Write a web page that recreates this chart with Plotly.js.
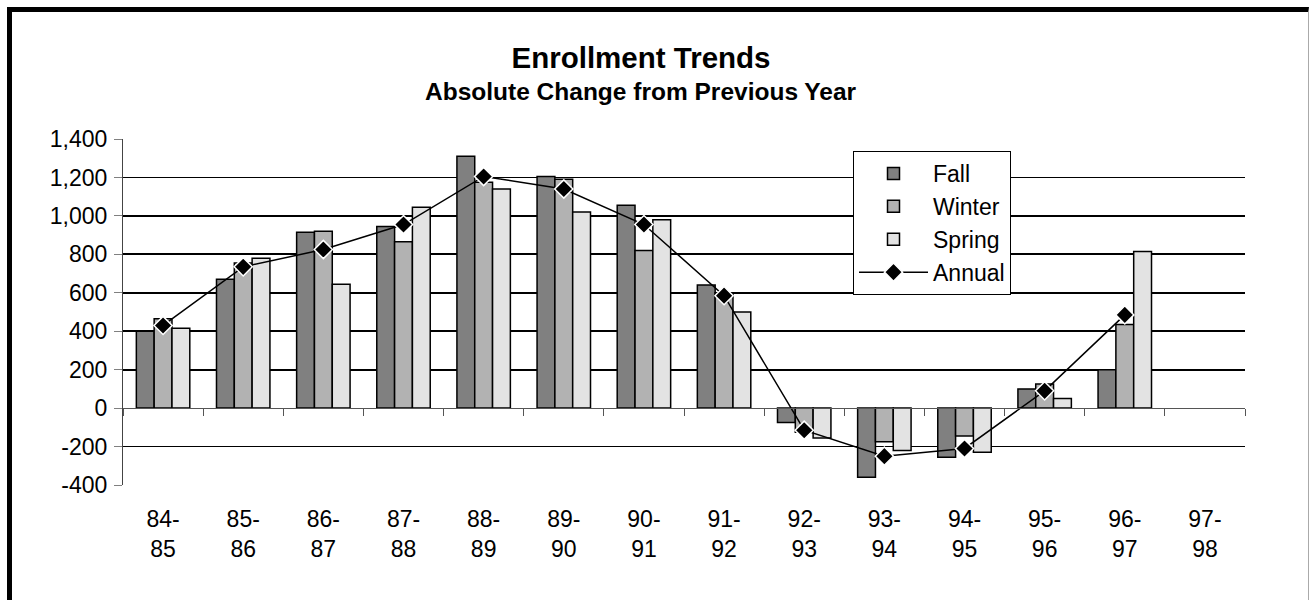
<!DOCTYPE html>
<html>
<head>
<meta charset="utf-8">
<script src="https://cdn.plot.ly/plotly-3.0.1.min.js"></script>
<style>
  html, body { margin: 0; padding: 0; background: #fff; }
  #wrap { position: relative; width: 1309px; height: 600px; overflow: hidden; }
  #chart { position: absolute; left: 0; top: 0; width: 1309px; height: 600px; }
  #frame { position: absolute; left: 7px; top: 7px; width: 1302px; height: 700px;
           box-sizing: border-box; border-left: 5px solid #000; border-top: 5px solid #000;
           border-right: 1px solid #aaa; pointer-events: none; }
</style>
</head>
<body>
<div id="wrap">
  <div id="chart"></div>
  <div id="frame"></div>
</div>
<script>
// ---- data ----
const categories = ["84-85","85-86","86-87","87-88","88-89","89-90","90-91","91-92","92-93","93-94","94-95","95-96","96-97","97-98"];
const tickLabels = ["84-<br>85","85-<br>86","86-<br>87","87-<br>88","88-<br>89","89-<br>90","90-<br>91","91-<br>92","92-<br>93","93-<br>94","94-<br>95","95-<br>96","96-<br>97","97-<br>98"];
const fall   = [400, 670, 915, 945, 1310, 1205, 1055, 640, -75, -360, -255, 100, 200, null];
const winter = [465, 755, 920, 865, 1175, 1190, 820, 600, -125, -175, -145, 125, 435, null];
const spring = [415, 780, 645, 1045, 1140, 1020, 980, 500, -155, -220, -230, 50, 815, null];
const annual = [430, 735, 825, 955, 1205, 1140, 955, 585, -115, -250, -210, 90, 485, null];
const yTickVals = [-400, -200, 0, 200, 400, 600, 800, 1000, 1200, 1400];
const yTickText = ["-400", "-200", "0", "200", "400", "600", "800", "1,000", "1,200", "1,400"];
const titleText = "Enrollment Trends";
const subtitleText = "Absolute Change from Previous Year";

const FONT = "Liberation Sans, Arial, sans-serif";
const barLine = { color: "#000", width: 1.5 };

const traces = [
  { type: "bar", name: "Fall", x: categories, y: fall, legendgroup: "a",
    marker: { color: "#808080", line: barLine } },
  { type: "bar", name: "Winter", x: categories, y: winter, legendgroup: "b",
    marker: { color: "#b2b2b2", line: barLine } },
  { type: "bar", name: "Spring", x: categories, y: spring, legendgroup: "c",
    marker: { color: "#e3e3e3", line: barLine } },
  { type: "scatter", mode: "lines+markers", name: "Annual", x: categories, y: annual, legendgroup: "d",
    line: { color: "#000", width: 1.5 },
    marker: { symbol: "diamond", size: 14, color: "#000", line: { color: "#fff", width: 1.5 } } }
];

const zeroPos = 400 / 1800;

const layout = {
  width: 1309, height: 600,
  margin: { l: 123, r: 64, t: 139, b: 115 },
  paper_bgcolor: "#fff", plot_bgcolor: "#fff",
  font: { family: FONT, size: 23, color: "#000" },
  title: {
    text: "<b>" + titleText + "</b>",
    font: { family: FONT, size: 29.5, color: "#000" },
    x: 641 / 1309, xanchor: "center", xref: "container",
    y: 1 - 58 / 600, yanchor: "middle", yref: "container"
  },
  annotations: [{
    text: "<b>" + subtitleText + "</b>",
    xref: "paper", yref: "paper",
    x: (641 - 123) / 1122, y: (485 - 91) / 346,
    xanchor: "center", yanchor: "middle", showarrow: false,
    font: { family: FONT, size: 24.5, color: "#000" }
  }],
  barmode: "group", bargap: 0.333, bargroupgap: 0,
  showlegend: true,
  legend: {
    x: (853 - 123) / 1122, y: (485 - 151) / 346, xanchor: "left", yanchor: "top",
    bgcolor: "#fff", bordercolor: "#000", borderwidth: 1,
    font: { family: FONT, size: 23, color: "#000" },
    tracegroupgap: 8, traceorder: "normal", itemwidth: 69
  },
  xaxis: {
    type: "category", categoryorder: "array", categoryarray: categories,
    range: [-0.5, 13.5], fixedrange: true,
    anchor: "free", position: zeroPos,
    tickmode: "array", tickvals: categories, ticktext: tickLabels,
    tickson: "boundaries", ticks: "outside", ticklen: 7, tickcolor: "#555", tickwidth: 1,
    showline: true, linecolor: "#555", linewidth: 1,
    showgrid: false, zeroline: false,
    ticklabelstandoff: 90,
    tickfont: { family: FONT, size: 23, color: "#000" }
  },
  xaxis2: {
    type: "category", categoryorder: "array", categoryarray: categories,
    overlaying: "x", matches: "x", range: [-0.5, 13.5],
    anchor: "free", position: zeroPos,
    tickmode: "array", tickvals: categories, ticktext: tickLabels,
    tickson: "boundaries", ticks: "inside", ticklen: 7, tickcolor: "#555", tickwidth: 1,
    showticklabels: false, showline: false, showgrid: false, zeroline: false
  },
  yaxis: {
    range: [-400, 1400], fixedrange: true,
    tickmode: "array", tickvals: yTickVals, ticktext: yTickText,
    ticks: "outside", ticklen: 8, tickcolor: "#808080", tickwidth: 1,
    showline: true, linecolor: "#444", linewidth: 1,
    showgrid: true, gridcolor: "#000", gridwidth: 1.8,
    zeroline: true, zerolinecolor: "#555", zerolinewidth: 1,
    ticklabelstandoff: 2,
    tickfont: { family: FONT, size: 23, color: "#000" }
  }
};

Plotly.newPlot("chart", traces, layout, { staticPlot: true, displayModeBar: false });
</script>
</body>
</html>
